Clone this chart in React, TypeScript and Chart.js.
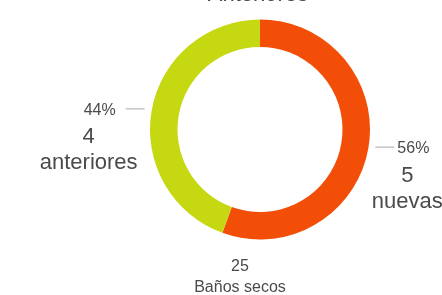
import React, { useEffect, useRef } from "react";
import { Chart, registerables } from "chart.js";

Chart.register(...registerables);

const categories = ["nuevas", "anteriores"];
const values = [5, 4];
const colors = ["#F24E07", "#C6D812"];
const topTitle = "Anteriores";
const totalValue = "25";
const totalLabel = "Baños secos";

const FONT = "'Liberation Sans', Arial, sans-serif";
const TEXT = "#4A4A4A";

const labelsPlugin = {
  id: "sideLabels",
  afterDraw(chart: any) {
    const ctx = chart.ctx;
    const meta = chart.getDatasetMeta(0);
    const total = values.reduce((a, b) => a + b, 0);
    ctx.save();
    meta.data.forEach((arc: any, i: number) => {
      const { x, y, startAngle, endAngle, outerRadius } = arc.getProps(
        ["x", "y", "startAngle", "endAngle", "outerRadius"],
        true
      );
      const mid = (startAngle + endAngle) / 2;
      const px = x + Math.cos(mid) * outerRadius;
      const py = y + Math.sin(mid) * outerRadius;
      const dir = Math.cos(mid) < 0 ? -1 : 1;
      const l0 = px + dir * 7;
      const l1 = l0 + dir * 19;
      ctx.strokeStyle = "#AAAAAA";
      ctx.lineWidth = 1;
      ctx.beginPath();
      ctx.moveTo(l0, py - 1.5);
      ctx.lineTo(l1, py - 1.5);
      ctx.stroke();
      const pct = Math.round((values[i] / total) * 100) + "%";
      ctx.fillStyle = TEXT;
      ctx.textBaseline = "middle";
      ctx.font = `16px ${FONT}`;
      if (dir < 0) {
        ctx.textAlign = "right";
        ctx.fillText(pct, l1 - 10, py);
      } else {
        ctx.textAlign = "left";
        ctx.fillText(pct, l1 + 3, py);
      }
      const cx = dir < 0 ? l1 - 37 : l1 + 13;
      ctx.textAlign = "center";
      ctx.font = `22px ${FONT}`;
      ctx.fillText(String(values[i]), cx, py + 27);
      ctx.fillText(categories[i], cx, py + 53);
    });
    const a0 = meta.data[0];
    if (a0) {
      const { x, y, outerRadius } = a0.getProps(["x", "y", "outerRadius"], true);
      ctx.textAlign = "center";
      ctx.textBaseline = "middle";
      ctx.fillStyle = TEXT;
      ctx.font = `16px ${FONT}`;
      ctx.fillText(totalValue, x - 20, y + outerRadius + 27);
      ctx.fillText(totalLabel, x - 20, y + outerRadius + 48);
      ctx.textBaseline = "alphabetic";
      ctx.font = `22px ${FONT}`;
      ctx.fillText(topTitle, x - 2, 1);
    }
    ctx.restore();
  },
};

export default function App() {
  const ref = useRef<HTMLCanvasElement>(null);
  useEffect(() => {
    document.body.style.margin = "0";
    const chart = new Chart(ref.current!, {
      type: "doughnut",
      data: {
        labels: categories,
        datasets: [
          {
            data: values,
            backgroundColor: colors,
            borderWidth: 0,
          },
        ],
      },
      options: {
        responsive: false,
        animation: false,
        devicePixelRatio: 1,
        cutout: "75%",
        layout: { padding: { left: 150, right: 72, top: 19, bottom: 55 } },
        plugins: { legend: { display: false }, tooltip: { enabled: false } },
      },
      plugins: [labelsPlugin],
    } as any);
    return () => chart.destroy();
  }, []);
  return <canvas ref={ref} width={442} height={295} style={{ display: "block" }} />;
}
